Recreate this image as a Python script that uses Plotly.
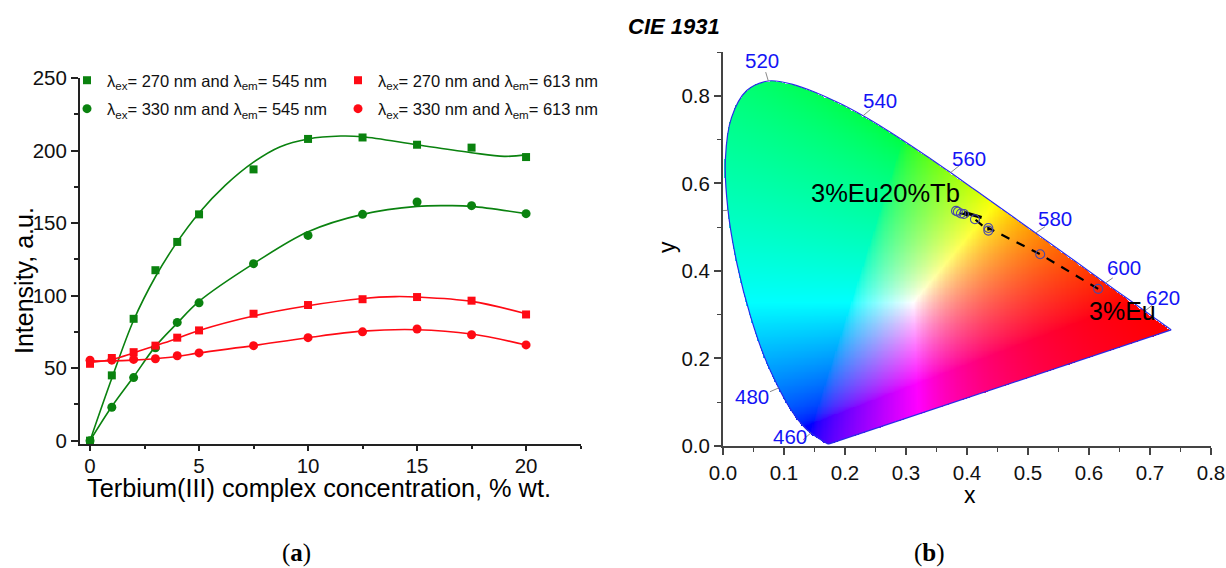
import numpy as np
import plotly.graph_objects as go

W, H = 1226, 568
FONT = "Liberation Sans"

# ---- panel (a) data
conc = [0, 1, 2, 3, 4, 5, 7.5, 10, 12.5, 15, 17.5, 20]
sq_545 = [0, 45, 84, 117.5, 137, 156, 187, 208, 209, 204, 202, 195.5]
ci_545 = [0, 23, 43.5, 64, 81.5, 95, 122, 141.5, 156, 164.5, 162, 156.5]
sq_613 = [53, 57, 61, 65.5, 71, 76, 87.5, 93.5, 97.5, 99, 96.5, 87]
ci_613 = [55.5, 55.5, 56, 56.5, 58.5, 60.5, 65.5, 71, 75, 77, 73, 66]

fit_sq_545_x = [0, 1, 2, 3, 4, 5, 6.2, 7.5, 8.7, 10, 11.5, 12.5, 15, 17.5, 19, 20]
fit_sq_545_y = [0, 43, 83, 113, 137, 157, 176, 192, 202.5, 208, 210, 209.5, 204, 198.5, 196, 197]
fit_ci_545_x = [0, 1, 2, 3, 4, 5, 7.5, 10, 12.5, 15, 16.5, 17.5, 20]
fit_ci_545_y = [0, 23.5, 44, 65, 81, 96, 122, 144, 156, 161.5, 162, 161.5, 156.5]
fit_sq_613_x = [0, 1, 2, 3, 4, 5, 7.5, 10, 12.5, 14, 15, 17.5, 20]
fit_sq_613_y = [54, 56, 60.5, 65.5, 70.5, 76, 86, 93, 98, 99.3, 99, 96, 87.5]
fit_ci_613_x = [0, 1, 2, 3, 4, 5, 7.5, 10, 12.5, 15, 17.5, 20]
fit_ci_613_y = [55, 55, 55.5, 56.5, 58, 60.5, 65.5, 71, 75.5, 76.5, 73.5, 66]

# ---- panel (b) data: CIE 1931 spectral locus, 380..700 nm
locus_nm = list(range(380, 685, 5)) + [700]
locus_x = [.1741,.1740,.1738,.1736,.1733,.1730,.1726,.1721,.1714,.1703,.1689,.1669,.1644,.1611,.1566,.1510,
           .1440,.1355,.1241,.1096,.0913,.0687,.0454,.0235,.0082,.0039,.0139,.0389,.0743,.1142,.1547,.1929,
           .2296,.2658,.3016,.3373,.3731,.4087,.4441,.4788,.5125,.5448,.5752,.6029,.6270,.6482,.6658,.6801,
           .6915,.7006,.7079,.7140,.7190,.7230,.7260,.7283,.7300,.7311,.7320,.7327,.7334,.7347]
locus_y = [.0050,.0050,.0049,.0049,.0048,.0048,.0048,.0048,.0051,.0058,.0069,.0086,.0109,.0138,.0177,.0227,
           .0297,.0399,.0578,.0868,.1327,.2007,.2950,.4127,.5384,.6548,.7502,.8120,.8338,.8262,.8059,.7816,
           .7543,.7243,.6923,.6589,.6245,.5896,.5547,.5202,.4866,.4544,.4242,.3965,.3725,.3514,.3340,.3197,
           .3083,.2993,.2920,.2859,.2809,.2770,.2740,.2717,.2700,.2689,.2680,.2673,.2666,.2653]

wave_labels = ["520", "540", "560", "580", "600", "620", "500", "480", "460"]
wave_nm = [520, 540, 560, 580, 600, 620, 500, 480, 460]
label_x = [.064, .257, .403, .544, .657, .721, -.038, .048, .110]
label_y = [.880, .790, .656, .519, .407, .340, .535, .114, .021]
lead_x = [.070, .242, .387, .528, .639, .704, -.008, .077, .131]
lead_y = [.854, .769, .640, .501, .384, .322, .537, .124, .014]

cie_x = [.615, .52, .435, .435, .413, .395, .39, .385, .382]
cie_y = [.359, .438, .498, .492, .518, .530, .531, .535, .537]
wedge_x = [.395, .424]
wedge_y = [.534, .522]

# hue ridges seen in the reference's colour field
primary_x = [.67, .30, .148]
primary_y = [.33, .72, .053]
white_x, white_y = .3127, .329

# ---- geometry
def xdom(a, b): return [a / W, b / W]
def ydom(t, b): return [1 - b / H, 1 - t / H]

# ---- chromaticity background: mask follows a smoothed outline of the locus
def smooth(ax, ay, n=8):
    p = np.column_stack([ax, ay])
    p = np.vstack([p[0], p, p[-1]])
    out = []
    for i in range(1, len(p) - 2):
        for t in np.linspace(0, 1, n, endpoint=False):
            out.append(0.5 * (2 * p[i] + (p[i + 1] - p[i - 1]) * t
                              + (2 * p[i - 1] - 5 * p[i] + 4 * p[i + 1] - p[i + 2]) * t ** 2
                              + (3 * p[i] - p[i - 1] - 3 * p[i + 1] + p[i + 2]) * t ** 3))
    out.append(p[-2])
    return np.array(out)

step = 0.002
gx = np.arange(0, 0.8 + step / 2, step)
gy = np.arange(0, 0.9 + step / 2, step)
xx, yy = np.meshgrid(gx, gy)
poly = smooth(locus_x, locus_y)
px, py = poly[:, 0], poly[:, 1]
inside = np.zeros(xx.shape, bool)
j = len(px) - 1
for i in range(len(px)):
    cond = (py[i] > yy) != (py[j] > yy)
    xint = (px[j] - px[i]) * (yy - py[i]) / (py[j] - py[i] + 1e-12) + px[i]
    inside ^= cond & (xx < xint)
    j = i
Yv = np.where(yy > 0, yy, 1e-6)
XYZ = np.stack([xx / Yv, np.ones_like(xx), (1 - xx - yy) / Yv], -1)
P = np.array([primary_x, primary_y, 1 - np.array(primary_x) - np.array(primary_y)])
S = np.linalg.solve(P, [white_x / white_y, 1, (1 - white_x - white_y) / white_y])
Minv = np.linalg.inv(P * S)
rgb = np.clip(XYZ @ Minv.T, 0, None)
rgb = rgb / np.maximum(rgb.max(-1, keepdims=True), 1e-9)
r_l, g_l, b_l = rgb[..., 0], rgb[..., 1], rgb[..., 2]
r_out = r_l ** 0.6
g_out = g_l ** (0.55 + 0.25 * r_l)
b_out = b_l ** (0.36 + 0.55 * r_l ** 0.5)
rgb = np.stack([r_out, g_out, b_out], -1)
rgba = np.concatenate([np.round(rgb * 255), inside[..., None].astype(float)], -1)

fig = go.Figure()

# ---- panel (a) traces
GREEN, RED = "#0a820f", "#ff0a14"
for fx, fy, c in [(fit_sq_545_x, fit_sq_545_y, GREEN), (fit_ci_545_x, fit_ci_545_y, GREEN),
                  (fit_sq_613_x, fit_sq_613_y, RED), (fit_ci_613_x, fit_ci_613_y, RED)]:
    fig.add_trace(go.Scatter(x=fx, y=fy, mode="lines", line=dict(color=c, width=1.6, shape="spline", smoothing=1.0),
                             showlegend=False, hoverinfo="skip", xaxis="x", yaxis="y"))
names = ["λ<sub>ex</sub>= 270 nm and λ<sub>em</sub>= 545 nm", "λ<sub>ex</sub>= 330 nm and λ<sub>em</sub>= 545 nm",
         "λ<sub>ex</sub>= 270 nm and λ<sub>em</sub>= 613 nm", "λ<sub>ex</sub>= 330 nm and λ<sub>em</sub>= 613 nm"]
for vals, c, sym, nm, leg in [(sq_545, GREEN, "square", names[0], "legend"), (ci_545, GREEN, "circle", names[1], "legend"),
                              (sq_613, RED, "square", names[2], "legend2"), (ci_613, RED, "circle", names[3], "legend2")]:
    fig.add_trace(go.Scatter(x=conc, y=vals, mode="markers", name=nm, cliponaxis=False, legend=leg, legendgroup=nm,
                             marker=dict(color=c, symbol=sym, size=8 if sym == "square" else 9),
                             xaxis="x", yaxis="y"))

# ---- panel (b) traces
fig.add_trace(go.Image(z=rgba, x0=0, y0=0, dx=step, dy=step, colormodel="rgba", xaxis="x2", yaxis="y2", hoverinfo="skip"))
fig.add_trace(go.Scatter(x=locus_x, y=locus_y, mode="lines",
                         line=dict(color="#2a2ae8", width=1.2, shape="spline", smoothing=1.0), showlegend=False, hoverinfo="skip",
                         xaxis="x2", yaxis="y2"))
fig.add_trace(go.Scatter(x=[locus_x[-1], locus_x[0]], y=[locus_y[-1], locus_y[0]], mode="lines",
                         line=dict(color="#2a2ae8", width=1.2), showlegend=False, hoverinfo="skip",
                         xaxis="x2", yaxis="y2"))
lx, ly = [], []
for nm, ex, ey in zip(wave_nm, lead_x, lead_y):
    k = locus_nm.index(nm)
    lx += [locus_x[k], ex, None]
    ly += [locus_y[k], ey, None]
fig.add_trace(go.Scatter(x=lx, y=ly, mode="lines", line=dict(color="#8a8a8a", width=1), cliponaxis=False,
                         showlegend=False, hoverinfo="skip", xaxis="x2", yaxis="y2"))
fig.add_trace(go.Scatter(x=cie_x, y=cie_y, mode="lines", line=dict(color="black", width=2.2, dash="9px,8px"),
                         showlegend=False, hoverinfo="skip", xaxis="x2", yaxis="y2"))
fig.add_trace(go.Scatter(x=wedge_x, y=wedge_y, mode="lines", line=dict(color="black", width=3),
                         showlegend=False, hoverinfo="skip", xaxis="x2", yaxis="y2"))
fig.add_trace(go.Scatter(x=cie_x, y=cie_y, mode="markers",
                         marker=dict(symbol="circle-open", size=9, color="#4a4aa8", line=dict(width=1.1)),
                         showlegend=False, xaxis="x2", yaxis="y2"))

# ---- annotations
ann = []
for t, x, y in zip(wave_labels, label_x, label_y):
    ann.append(dict(text=t, x=x, y=y, xref="x2", yref="y2", showarrow=False,
                    font=dict(size=20.5, color="#1414f5", family=FONT)))
ann.append(dict(text="3%Eu20%Tb", x=.1405, y=.578, xref="x2", yref="y2", xanchor="left", yanchor="middle", showarrow=False,
                font=dict(size=25.5, color="black", family=FONT)))
ann.append(dict(text="3%Eu", x=.5975, y=.308, xref="x2", yref="y2", xanchor="left", yanchor="middle", showarrow=False,
                font=dict(size=25, color="black", family=FONT)))
def papertext(t, px_, py_, size, family=FONT, **kw):
    return dict(text=t, x=px_ / W, y=1 - py_ / H, xref="paper", yref="paper", showarrow=False,
                xanchor="center", yanchor="middle",
                font=dict(size=size, family=family, color="black"), **kw)
ann.append(papertext("<b><i>CIE 1931</i></b>", 674, 27, 22))
ann.append(papertext("(<b>a</b>)", 296, 553, 25, "Liberation Serif"))
ann.append(papertext("(<b>b</b>)", 929, 553, 25, "Liberation Serif"))
ann.append(papertext("Terbium(III) complex concentration, % wt.", 319, 488, 25.3))
ann.append(papertext("Intensity, a.u.", 24, 281, 25, textangle=-90))
ann.append(papertext("x", 970, 495, 23))
ann.append(papertext("y", 667, 247, 23, textangle=-90))

def axis(**kw):
    d = dict(showgrid=False, zeroline=False, showline=True, ticks="outside", mirror=False,
             tickfont=dict(family=FONT, size=20.5, color="#111"), automargin=False, layer="above traces")
    d.update(kw)
    return d

fig.update_layout(
    width=W, height=H, margin=dict(l=0, r=0, t=0, b=0), paper_bgcolor="white", plot_bgcolor="white",
    font=dict(family=FONT, color="black"),
    xaxis=axis(domain=xdom(80, 581), range=[-0.46, 22.52], anchor="y", tick0=0, dtick=5, ticklen=5, tickwidth=1.5,
               linecolor="#222", linewidth=2, tickcolor="#222", ticklabelstandoff=-3,
               minor=dict(tick0=2.5, dtick=2.5, ticks="outside", ticklen=3, tickwidth=1.5, tickcolor="#222")),
    yaxis=axis(domain=ydom(78, 444), range=[-2.3, 250], anchor="x", tick0=0, dtick=50, ticklen=7, tickwidth=1.5,
               linecolor="#222", linewidth=2, tickcolor="#222",
               minor=dict(tick0=0, dtick=25, ticks="outside", ticklen=4, tickwidth=1.5, tickcolor="#222")),
    xaxis2=axis(domain=xdom(723, 1211), range=[0, .8], anchor="y2", tick0=0, dtick=.1, ticklen=7, tickwidth=1.5,
                tickformat=".1f", linecolor="#444", linewidth=2, tickcolor="#444",
                minor=dict(dtick=.05, ticks="outside", ticklen=4, tickwidth=1.2, tickcolor="#444")),
    yaxis2=axis(domain=ydom(52, 446), range=[0, .9], anchor="x2", tick0=0, dtick=.2, ticklen=7, tickwidth=1.5,
                tickformat=".1f", linecolor="#444", linewidth=2, tickcolor="#444", scaleanchor=False,
                minor=dict(dtick=.1, ticks="outside", ticklen=4, tickwidth=1.2, tickcolor="#444")),
    legend=dict(x=67 / W, y=1 - 63 / H, xanchor="left", yanchor="top", font=dict(size=16.5, family=FONT, color="#111"),
                bgcolor="rgba(0,0,0,0)", itemwidth=30, tracegroupgap=4),
    legend2=dict(x=338 / W, y=1 - 63 / H, xanchor="left", yanchor="top", font=dict(size=16.5, family=FONT, color="#111"),
                 bgcolor="rgba(0,0,0,0)", itemwidth=30, tracegroupgap=4),
    annotations=ann,
)

fig.write_html("out.html", config=dict(displayModeBar=False), post_script="document.body.style.margin='0';")
